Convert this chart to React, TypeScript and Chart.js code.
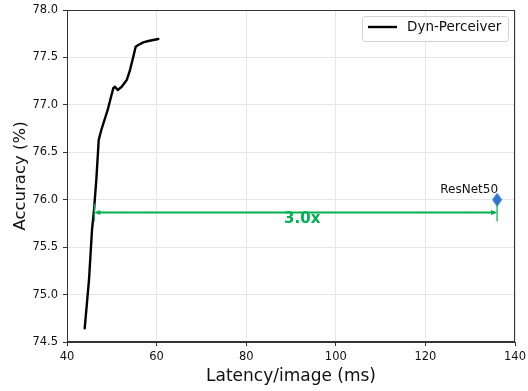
import { useEffect, useRef } from "react";
import { Chart, registerables } from "chart.js";

Chart.register(...registerables);

const seriesLabel = "Dyn-Perceiver";
const latency = [43.95, 44.91, 45.58, 46.03, 46.54, 47.08, 47.66, 49.08, 49.75, 50.33, 50.71, 51.32, 52.21, 53.33, 54.06, 54.8, 55.33, 55.92, 57.03, 58.15, 60.38];
const accuracy = [74.644, 75.154, 75.681, 75.892, 76.208, 76.63, 76.735, 76.946, 77.069, 77.175, 77.191, 77.157, 77.191, 77.262, 77.367, 77.508, 77.613, 77.631, 77.659, 77.673, 77.694];

const baselineLabel = "ResNet50";
const baselineLatency = [136.0];
const baselineAccuracy = [76.0];

const speedupText = "3.0x";
const arrowFrom = 46.1;
const arrowTo = 136.0;
const arrowAcc = 75.865;
const speedupTextX = 92.5;
const speedupTextY = 75.8;
const baselineTextY = 76.07;

const xTicks = [40, 60, 80, 100, 120, 140];
const yTicks = [74.5, 75.0, 75.5, 76.0, 76.5, 77.0, 77.5, 78.0];

const FONT = "'DejaVu Sans', sans-serif";
const GREEN = "#00b050";
const BLUE = "#2e74cc";

function makeDiamond(): HTMLCanvasElement {
  const c = document.createElement("canvas");
  c.width = 11;
  c.height = 15;
  const g = c.getContext("2d")!;
  g.fillStyle = BLUE;
  g.beginPath();
  g.moveTo(5.5, 0.5);
  g.lineTo(10.5, 7.5);
  g.lineTo(5.5, 14.5);
  g.lineTo(0.5, 7.5);
  g.closePath();
  g.fill();
  return c;
}

const decorPlugin = {
  id: "decor",
  afterDatasetsDraw(chart: any) {
    const { ctx, chartArea, scales } = chart;
    const xs = scales.x;
    const ys = scales.y;
    ctx.save();
    // frame (top/right spines)
    ctx.strokeStyle = "#333";
    ctx.lineWidth = 1;
    ctx.strokeRect(chartArea.left + 0.5, chartArea.top + 0.5, chartArea.right - chartArea.left - 1, chartArea.bottom - chartArea.top - 1);

    // arrow
    const x1 = xs.getPixelForValue(arrowFrom);
    const x2 = xs.getPixelForValue(arrowTo);
    const ay = ys.getPixelForValue(arrowAcc);
    ctx.strokeStyle = GREEN;
    ctx.fillStyle = GREEN;
    ctx.lineWidth = 2;
    ctx.beginPath();
    ctx.moveTo(x1 + 2, ay);
    ctx.lineTo(x2 - 2, ay);
    ctx.stroke();
    ctx.lineWidth = 1.2;
    ctx.beginPath();
    ctx.moveTo(x1, ay - 9);
    ctx.lineTo(x1, ay + 9);
    ctx.moveTo(x2, ay - 9);
    ctx.lineTo(x2, ay + 9);
    ctx.stroke();
    ctx.beginPath();
    ctx.moveTo(x1, ay);
    ctx.lineTo(x1 + 6, ay - 2.5);
    ctx.lineTo(x1 + 6, ay + 2.5);
    ctx.closePath();
    ctx.fill();
    ctx.beginPath();
    ctx.moveTo(x2, ay);
    ctx.lineTo(x2 - 6, ay - 2.5);
    ctx.lineTo(x2 - 6, ay + 2.5);
    ctx.closePath();
    ctx.fill();

    // speedup text
    ctx.font = `bold 15px ${FONT}`;
    ctx.textAlign = "center";
    ctx.textBaseline = "middle";
    ctx.fillText(speedupText, xs.getPixelForValue(speedupTextX), ys.getPixelForValue(speedupTextY));

    // baseline label
    ctx.fillStyle = "#111";
    ctx.font = `12px ${FONT}`;
    ctx.textAlign = "right";
    ctx.textBaseline = "alphabetic";
    ctx.fillText(baselineLabel, xs.getPixelForValue(baselineLatency[0]) + 1, ys.getPixelForValue(baselineTextY));

    // legend
    const bx = chartArea.right - 153;
    const by = chartArea.top + 6;
    const bw = 146;
    const bh = 25;
    ctx.fillStyle = "rgba(255,255,255,0.85)";
    ctx.strokeStyle = "#d0d0d0";
    ctx.lineWidth = 1;
    ctx.beginPath();
    (ctx as any).roundRect(bx + 0.5, by + 0.5, bw, bh, 3);
    ctx.fill();
    ctx.stroke();
    ctx.strokeStyle = "#000";
    ctx.lineWidth = 2.4;
    ctx.beginPath();
    ctx.moveTo(bx + 6, by + 11);
    ctx.lineTo(bx + 35, by + 11);
    ctx.stroke();
    ctx.fillStyle = "#111";
    ctx.font = `13.5px ${FONT}`;
    ctx.textAlign = "left";
    ctx.textBaseline = "middle";
    ctx.fillText(seriesLabel, bx + 45, by + 11.5);
    ctx.restore();
  },
};

export default function App() {
  const ref = useRef<HTMLCanvasElement | null>(null);
  useEffect(() => {
    document.body.style.margin = "0";
    const canvas = ref.current!;
    const chart = new Chart(canvas, {
      type: "line",
      data: {
        datasets: [
          {
            label: seriesLabel,
            data: latency.map((x, i) => ({ x, y: accuracy[i] })),
            borderColor: "#000",
            borderWidth: 2.4,
            pointRadius: 0,
            tension: 0,
            fill: false,
            borderJoinStyle: "round",
            borderCapStyle: "round",
          } as any,
          {
            type: "scatter",
            label: baselineLabel,
            data: baselineLatency.map((x, i) => ({ x, y: baselineAccuracy[i] })),
            pointStyle: makeDiamond() as any,
            pointRadius: 6,
            backgroundColor: BLUE,
            borderColor: BLUE,
          } as any,
        ],
      },
      options: {
        animation: false,
        responsive: false,
        devicePixelRatio: 1,
        layout: { padding: { top: 10, right: 13, left: 0, bottom: 0 } },
        plugins: { legend: { display: false }, tooltip: { enabled: false } },
        scales: {
          x: {
            type: "linear",
            min: 40,
            max: 140,
            afterFit: (s: any) => {
              s.height = 49;
              s.paddingLeft = 0;
              s.paddingRight = 0;
            },
            afterBuildTicks: (s: any) => {
              s.ticks = xTicks.map((v) => ({ value: v }));
            },
            ticks: { font: { family: FONT, size: 11.5 }, color: "#111", padding: 4, maxRotation: 0 },
            grid: { color: "#e6e6e6", tickColor: "#333", tickLength: 4 },
            border: { display: true, color: "#333" },
            title: {
              display: true,
              text: "Latency/image (ms)",
              font: { family: FONT, size: 17 },
              color: "#111",
              padding: { top: 4 },
            },
          },
          y: {
            type: "linear",
            min: 74.5,
            max: 78,
            afterFit: (s: any) => {
              s.width = 67;
              s.paddingTop = 0;
              s.paddingBottom = 0;
            },
            afterBuildTicks: (s: any) => {
              s.ticks = yTicks.map((v) => ({ value: v }));
            },
            ticks: {
              font: { family: FONT, size: 11.5 },
              color: "#111",
              padding: 5,
              callback: (v: any) => Number(v).toFixed(1),
            },
            grid: { color: "#e6e6e6", tickColor: "#333", tickLength: 4 },
            border: { display: true, color: "#333" },
            title: {
              display: true,
              text: "Accuracy (%)",
              font: { family: FONT, size: 16.5 },
              color: "#111",
              padding: { top: 11 },
            },
          },
        },
      },
      plugins: [decorPlugin],
    });
    return () => chart.destroy();
  }, []);
  return <canvas ref={ref} width={528} height={391} style={{ display: "block" }} />;
}
